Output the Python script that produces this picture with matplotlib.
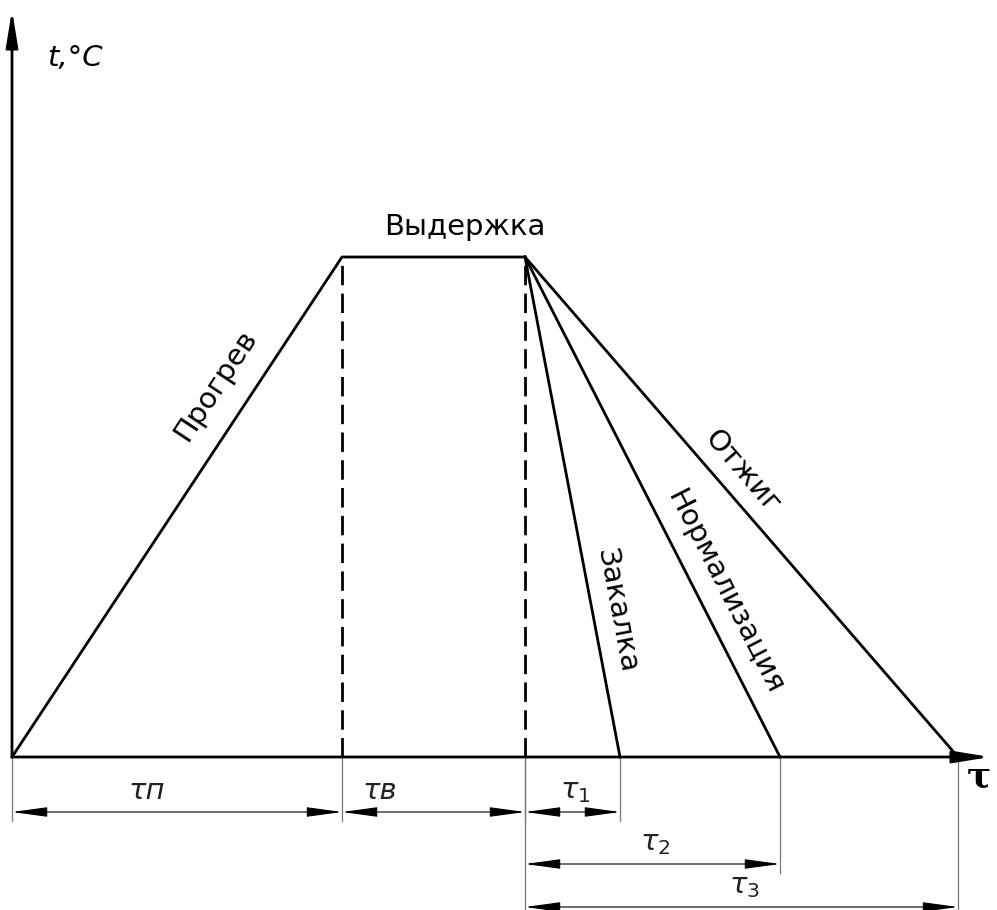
import numpy as np
import matplotlib.pyplot as plt

# values (pixel units from the origin)
tau_heat = 330
tau_hold = 183
tau_cool = [95, 255, 433]
temp_hold = 500
cool_names = ['Закалка', 'Нормализация', 'Отжиг']
dim_names = ['τп', 'τв', r'$\tau_\mathit{1}$', r'$\tau_\mathit{2}$', r'$\tau_\mathit{3}$']

FONT = ['Liberation Sans Narrow', 'DejaVu Sans']
plt.rcParams['mathtext.fontset'] = 'dejavusans'

fig = plt.figure(figsize=(9.97, 9.10), dpi=100)
ax = fig.add_axes([0, 0, 1, 1])
ax.set_xlim(-12, 985)
ax.set_ylim(-153, 757)
ax.axis('off')

# axes with arrows
axis_arrow = dict(arrowstyle='-|>,head_length=1.1,head_width=0.18', lw=2,
                  color='k', shrinkA=0, shrinkB=0, mutation_scale=20)
ax.annotate('', xy=(0, 747), xytext=(0, 0), arrowprops=axis_arrow)
ax.annotate('', xy=(978, 0), xytext=(0, 0), arrowprops=axis_arrow)
ax.text(63, 699, 't,°C', fontsize=21, style='italic', family=FONT,
        ha='center', va='center')
ax.text(967, -19, 'τ', fontsize=26, weight='bold', family='DejaVu Serif',
        ha='center', va='center')

x1 = tau_heat
x2 = tau_heat + tau_hold
ax.plot([0, x1, x2], [0, temp_hold, temp_hold], color='k', lw=2)
for x in (x1, x2):
    ax.plot([x, x], [0, temp_hold], color='k', lw=2, dashes=(7, 3))
for tc in tau_cool:
    ax.plot([x2, x2 + tc], [temp_hold, 0], color='k', lw=2)

# labels along the lines
ax.text(453, 530, 'Выдержка', fontsize=21, family=FONT, ha='center', va='center')
ang = np.degrees(np.arctan2(temp_hold, tau_heat))
ax.text(203, 372, 'Прогрев', fontsize=21, family=FONT, rotation=ang,
        rotation_mode='anchor', ha='center', va='center')
cool_pos = [(605, 147), (713, 165), (730, 285)]
for name, tc, (px, py) in zip(cool_names, tau_cool, cool_pos):
    a = np.degrees(np.arctan2(-temp_hold, tc))
    ax.text(px, py, name, fontsize=21, family=FONT, rotation=a,
            rotation_mode='anchor', ha='center', va='center')

# dimension lines
dim_arrow = dict(arrowstyle='<|-|>,head_length=1.1,head_width=0.15', lw=0.8,
                 color='k', shrinkA=0, shrinkB=0, mutation_scale=20)
ext_kw = dict(color='#777777', lw=0.9)
row_y = [-55, -107, -150]
spans = [(0, x1, row_y[0]), (x1, x2, row_y[0])]
spans += [(x2, x2 + tc, y) for tc, y in zip(tau_cool, row_y)]
label_x = [135, 368, None, None, None]
for (a, b, y), name, lx in zip(spans, dim_names, label_x):
    ax.annotate('', xy=(b, y), xytext=(a, y), arrowprops=dim_arrow)
    ax.plot([b, b], [0, y - 9], **ext_kw)
    if lx is None:
        lx = (a + b) / 2 + 3
    ax.text(lx, y + 21, name, fontsize=21, style='italic', family=FONT,
            ha='center', va='center', color='#222222')
ax.plot([0, 0], [0, row_y[0] - 9], **ext_kw)
ax.plot([x2, x2], [0, row_y[2] - 5], **ext_kw)

fig.savefig('out.png', dpi=100)
